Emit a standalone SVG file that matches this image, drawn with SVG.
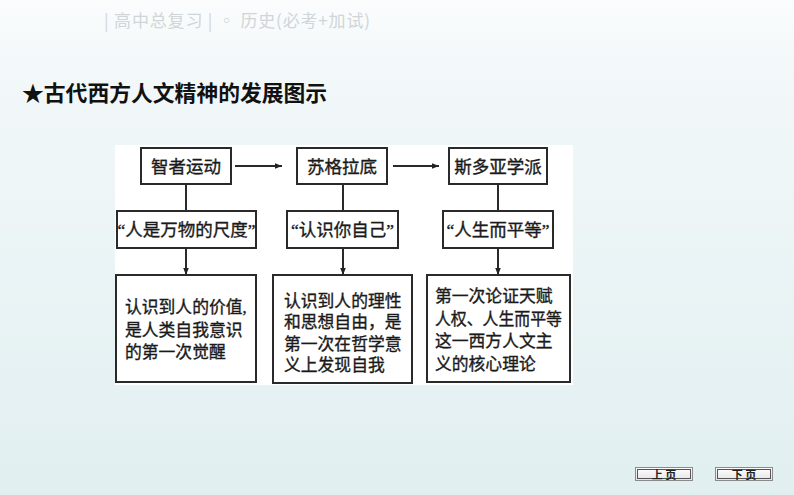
<svg xmlns="http://www.w3.org/2000/svg" width="794" height="495" viewBox="0 0 794 495">
<defs>
<linearGradient id="bg" x1="0" y1="0" x2="0" y2="1">
<stop offset="0" stop-color="#fbfdfd"/>
<stop offset="0.12" stop-color="#f3f8f9"/>
<stop offset="1" stop-color="#e1eff1"/>
</linearGradient>
<linearGradient id="btn" x1="0" y1="0" x2="0" y2="1">
<stop offset="0" stop-color="#ffffff"/>
<stop offset="1" stop-color="#e4e4e4"/>
</linearGradient>
<marker id="ah" viewBox="0 0 10 10" refX="10" refY="5" markerWidth="7" markerHeight="7" markerUnits="userSpaceOnUse" orient="auto">
<path d="M0,1 L10,5 L0,9 Z" fill="#222"/>
</marker>
</defs>
<style>
.box{fill:#fff;stroke:#2a2a2a;stroke-width:2}
.ln{stroke:#2a2a2a;stroke-width:2;fill:none}
.t{font-family:"Liberation Serif","Noto Sans CJK SC",serif;fill:#1a1a1a;stroke:#1a1a1a;stroke-width:0.35}
.h{font-size:17.5px;text-anchor:middle}
.b{font-size:16.8px}
.hdr{font-family:"Noto Sans CJK SC",sans-serif;font-size:17px;fill:#d0d5d8}
.title{font-family:"Noto Sans CJK SC",sans-serif;font-size:21.8px;font-weight:bold;fill:#111}
.bt{font-family:"Liberation Serif","Noto Sans CJK SC",serif;font-size:11px;font-weight:bold;fill:#222;text-anchor:middle}
</style>
<rect x="0" y="0" width="794" height="495" fill="url(#bg)"/>
<text class="hdr" x="104" y="27" textLength="266" lengthAdjust="spacing">| 高中总复习 | ◦ 历史(必考+加试)</text>
<text class="title" x="22" y="101">★古代西方人文精神的发展图示</text>
<rect x="115" y="145" width="458" height="240" fill="#fff"/>

<g id="connectors">
<line class="ln" x1="235" y1="166" x2="282" y2="166" marker-end="url(#ah)"/>
<line class="ln" x1="393" y1="166" x2="439" y2="166" marker-end="url(#ah)"/>
<line class="ln" x1="186" y1="184" x2="186" y2="211"/>
<line class="ln" x1="343" y1="184" x2="343" y2="211"/>
<line class="ln" x1="498" y1="184" x2="498" y2="211"/>
<line class="ln" x1="186" y1="248" x2="186" y2="275" marker-end="url(#ah)"/>
<line class="ln" x1="343" y1="248" x2="343" y2="275" marker-end="url(#ah)"/>
<line class="ln" x1="498" y1="248" x2="498" y2="275" marker-end="url(#ah)"/>
</g>

<g id="n1">
<rect class="box" x="141" y="148" width="90" height="36"/>
<text class="t h" x="186" y="172.5">智者运动</text>
</g>
<g id="n2">
<rect class="box" x="297" y="148" width="90" height="36"/>
<text class="t h" x="342" y="172.5">苏格拉底</text>
</g>
<g id="n3">
<rect class="box" x="449" y="148" width="98" height="36"/>
<text class="t h" x="498" y="172.5">斯多亚学派</text>
</g>
<g id="q1">
<rect class="box" x="117" y="211" width="139" height="37"/>
<text class="t h" x="186.5" y="236">“人是万物的尺度”</text>
</g>
<g id="q2">
<rect class="box" x="287" y="211" width="111" height="37"/>
<text class="t h" x="342.5" y="236">“认识你自己”</text>
</g>
<g id="q3">
<rect class="box" x="443" y="211" width="110" height="37"/>
<text class="t h" x="498" y="236">“人生而平等”</text>
</g>
<g id="d1">
<rect class="box" x="116" y="275" width="140" height="107"/>
<text class="t b" x="125" y="313">认识到人的价值,</text>
<text class="t b" x="125" y="335.5">是人类自我意识</text>
<text class="t b" x="125" y="358">的第一次觉醒</text>
</g>
<g id="d2">
<rect class="box" x="273" y="275" width="139" height="108"/>
<text class="t b" x="284" y="306.5">认识到人的理性</text>
<text class="t b" x="284" y="328">和思想自由，是</text>
<text class="t b" x="284" y="349.5">第一次在哲学意</text>
<text class="t b" x="284" y="371">义上发现自我</text>
</g>
<g id="d3">
<rect class="box" x="427" y="275" width="143" height="107"/>
<text class="t b" x="435" y="301.5">第一次论证天赋</text>
<text class="t b" x="435" y="324.5" textLength="127" lengthAdjust="spacingAndGlyphs">人权、人生而平等</text>
<text class="t b" x="435" y="346.5">这一西方人文主</text>
<text class="t b" x="435" y="369.5">义的核心理论</text>
</g>

<g id="btn-prev">
<rect x="635.5" y="467.5" width="57" height="13" fill="url(#btn)" stroke="#8a8a8a" stroke-width="1"/>
<rect x="637.5" y="469.5" width="53" height="9" fill="none" stroke="#555" stroke-width="1"/>
<text class="bt" x="664" y="478.5">上  页</text>
</g>
<g id="btn-next">
<rect x="715.5" y="467.5" width="57" height="13" fill="url(#btn)" stroke="#8a8a8a" stroke-width="1"/>
<rect x="717.5" y="469.5" width="53" height="9" fill="none" stroke="#555" stroke-width="1"/>
<text class="bt" x="744" y="478.5">下  页</text>
</g>
</svg>
